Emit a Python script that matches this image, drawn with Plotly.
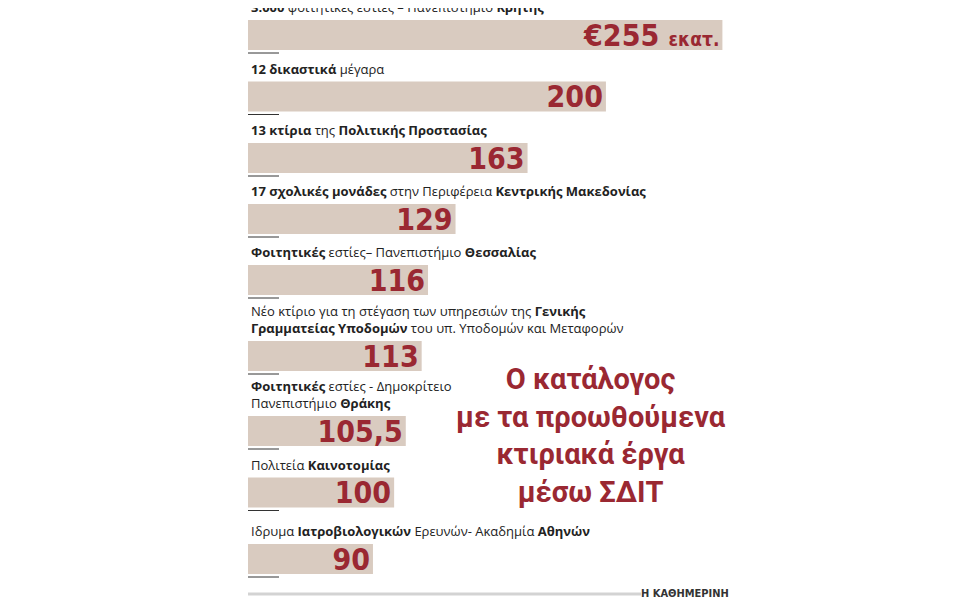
import plotly.graph_objects as go

# data (million euro)
values = [255, 200, 163, 129, 116, 113, 105.5, 100, 90]
value_labels = ["€255 <span style='font-size:19px'>εκατ.</span>", "200", "163", "129", "116",
                "113", "105,5", "100", "90"]
projects = [
    "<b>3.000</b> φοιτητικές εστίες – Πανεπιστήμιο <b>Κρήτης</b>",
    "<b>12 δικαστικά</b> μέγαρα",
    "<b>13 κτίρια</b> της <b>Πολιτικής Προστασίας</b>",
    "<b>17 σχολικές μονάδες</b> στην Περιφέρεια <b>Κεντρικής Μακεδονίας</b>",
    "<b>Φοιτητικές</b> εστίες– Πανεπιστήμιο <b>Θεσσαλίας</b>",
    "Νέο κτίριο για τη στέγαση των υπηρεσιών της <b>Γενικής</b><br><b>Γραμματείας Υποδομών</b> του υπ. Υποδομών και Μεταφορών",
    "<b>Φοιτητικές</b> εστίες - Δημοκρίτειο<br>Πανεπιστήμιο <b>Θράκης</b>",
    "Πολιτεία <b>Καινοτομίας</b>",
    "Ιδρυμα <b>Ιατροβιολογικών</b> Ερευνών- Ακαδημία <b>Αθηνών</b>",
]

# layout: bar centres in pixels from top (two-line labels need more room)
centres = [35, 96.5, 158, 219, 280, 356, 431, 492.5, 559]
BASE = 31
RED = "#9a2832"
NARROW = "DejaVu Sans Condensed, Liberation Sans Narrow, Roboto"
L, PW = 240, 485

fig = go.Figure(go.Bar(
    x=[v - BASE for v in values], base=BASE, y=centres, orientation="h", width=30,
    marker=dict(color="#d9cbc0", line_width=0),
    text=value_labels, textposition="inside", insidetextanchor="end", textangle=0,
    constraintext="none", cliponaxis=False,
    textfont=dict(family=NARROW, size=30, color=RED, weight="bold"),
    hoverinfo="skip",
))

for c, p in zip(centres, projects):
    fig.add_annotation(x=0, xref="paper", y=c - 17, yref="y", text=p, showarrow=False,
                       xanchor="left", yanchor="bottom", align="left", xshift=1,
                       font=dict(family="Open Sans, Noto Sans", size=13, color="#222"))
    fig.add_shape(type="line", xref="paper", x0=0, x1=31 / PW, yref="y",
                  y0=c + 18, y1=c + 18, line=dict(color="#333", width=1))

fig.add_annotation(x=(590 - 247) / PW, xref="paper", y=435, yref="y", showarrow=False,
                   xanchor="center", yanchor="middle",
                   text="Ο κατάλογος<br>με τα προωθούμενα<br>κτιριακά έργα<br>μέσω ΣΔΙΤ",
                   font=dict(family="Roboto", size=29, color=RED, weight="bold"))
fig.add_shape(type="line", xref="paper", x0=0, x1=393 / PW, yref="y", y0=594, y1=594,
              line=dict(color="#d3d3d3", width=3))
fig.add_annotation(x=1, xref="paper", y=593, yref="y", text="<b>Η ΚΑΘΗΜΕΡΙΝΗ</b>",
                   showarrow=False, xanchor="right", xshift=-2,
                   font=dict(family=NARROW, size=11, color="#333"))

fig.update_xaxes(range=[BASE, 260], visible=False, automargin=False)
fig.update_yaxes(range=[608, 8], visible=False, automargin=False)
fig.update_layout(width=960, height=600,
                  margin=dict(l=L, r=960 - L - PW, t=0, b=0, autoexpand=False),
                  plot_bgcolor="white", paper_bgcolor="white", showlegend=False)
fig.write_html("out.html")
